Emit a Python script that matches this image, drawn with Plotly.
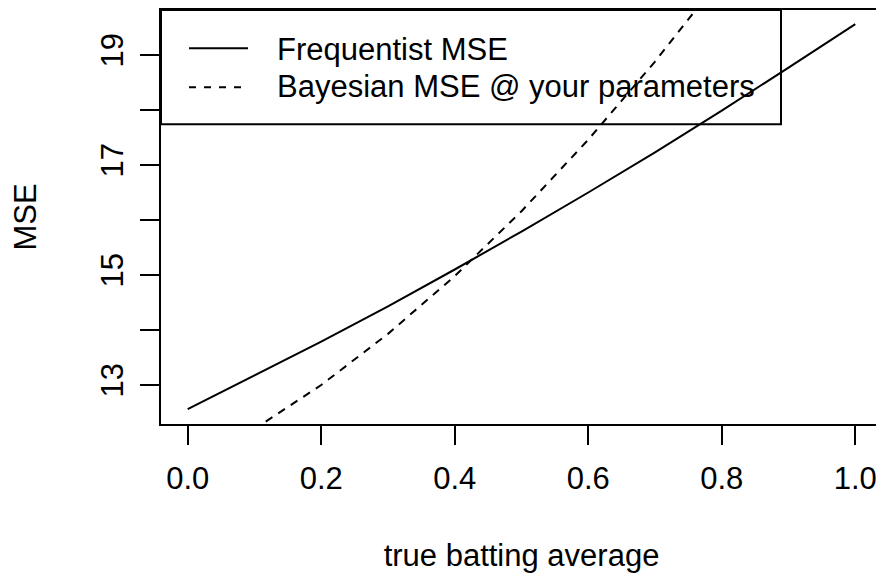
import plotly.graph_objects as go

# ---- data ----
p_vals = [0.0, 0.1, 0.2, 0.3, 0.4, 0.5, 0.6, 0.7, 0.8, 0.9, 1.0]
freq_mse = [12.56, 13.17, 13.79, 14.43, 15.10, 15.79, 16.50, 17.23, 17.99, 18.77, 19.56]
bayes_mse = [11.52, 12.20, 13.00, 13.93, 14.98, 16.16, 17.46, 18.88, 20.42, 22.09, 23.88]
x_ticks = [0.0, 0.2, 0.4, 0.6, 0.8, 1.0]
x_tick_labels = ["0.0", "0.2", "0.4", "0.6", "0.8", "1.0"]
y_ticks = [13, 14, 15, 16, 17, 18, 19]
y_tick_labels = ["13", "", "15", "", "17", "", "19"]
legend_labels = ["Frequentist MSE", "Bayesian MSE @ your parameters"]

# ---- layout geometry (page pixels; the page body has an 8px margin) ----
OFF = 8
W, H = 884 - OFF, 580 - OFF
L, R, T, B = 161, 882, 10, 424
FONT = "Liberation Sans, Arial, Helvetica, sans-serif"
FS = 31


def px(xp):
    return (xp - L) / (R - L)


def py(yp):
    return (B - yp) / (B - T)


fig = go.Figure()
fig.add_trace(go.Scatter(x=p_vals, y=freq_mse, mode="lines",
                         line=dict(color="black", width=2),
                         name=legend_labels[0], showlegend=False))
fig.add_trace(go.Scatter(x=p_vals, y=bayes_mse, mode="lines",
                         line=dict(color="black", width=2, dash="8px,7px"),
                         name=legend_labels[1], showlegend=False))

shapes = [
    # legend box
    dict(type="rect", xref="paper", yref="paper",
         x0=px(161), x1=px(781), y0=py(124.3), y1=py(10),
         line=dict(color="black", width=2), fillcolor="white", layer="below"),
    dict(type="line", xref="paper", yref="paper",
         x0=px(189), x1=px(248), y0=py(48.3), y1=py(48.3),
         line=dict(color="black", width=2)),
    dict(type="line", xref="paper", yref="paper",
         x0=px(189), x1=px(248), y0=py(87.3), y1=py(87.3),
         line=dict(color="black", width=2, dash="7px,8px")),
]
annotations = [
    dict(text=legend_labels[0], xref="paper", yref="paper",
         x=px(275), y=py(50), xanchor="left", yanchor="middle",
         showarrow=False, font=dict(family=FONT, size=FS, color="black")),
    dict(text=legend_labels[1], xref="paper", yref="paper",
         x=px(275), y=py(86), xanchor="left", yanchor="middle",
         showarrow=False, font=dict(family=FONT, size=FS, color="black")),
]

fig.update_layout(
    width=W, height=H,
    margin=dict(l=L - OFF, r=884 - R, t=T - OFF, b=580 - B, autoexpand=False),
    paper_bgcolor="white", plot_bgcolor="white",
    font=dict(family=FONT, size=FS, color="black"),
    shapes=shapes, annotations=annotations,
    showlegend=False,
)
fig.update_xaxes(
    range=[-0.04, 1.04], tickvals=x_ticks, ticktext=x_tick_labels,
    ticks="outside", ticklen=19, tickwidth=2, tickcolor="black",
    showline=True, mirror=True, linecolor="black", linewidth=2,
    showgrid=False, zeroline=False,
    tickfont=dict(family=FONT, size=FS, color="black"),
    ticklabelstandoff=7,
    title=dict(text="true batting average", standoff=49,
               font=dict(family=FONT, size=FS, color="black")),
)
fig.update_yaxes(
    range=[12.291, 19.818], tickvals=y_ticks, ticktext=y_tick_labels,
    ticks="outside", ticklen=19, tickwidth=2, tickcolor="black",
    showline=True, mirror=True, linecolor="black", linewidth=2,
    showgrid=False, zeroline=False, tickangle=-90,
    tickfont=dict(family=FONT, size=FS, color="black"),
    ticklabelstandoff=5,
    title=dict(text="MSE", standoff=49,
               font=dict(family=FONT, size=FS, color="black")),
)

fig.write_html("out.html")
